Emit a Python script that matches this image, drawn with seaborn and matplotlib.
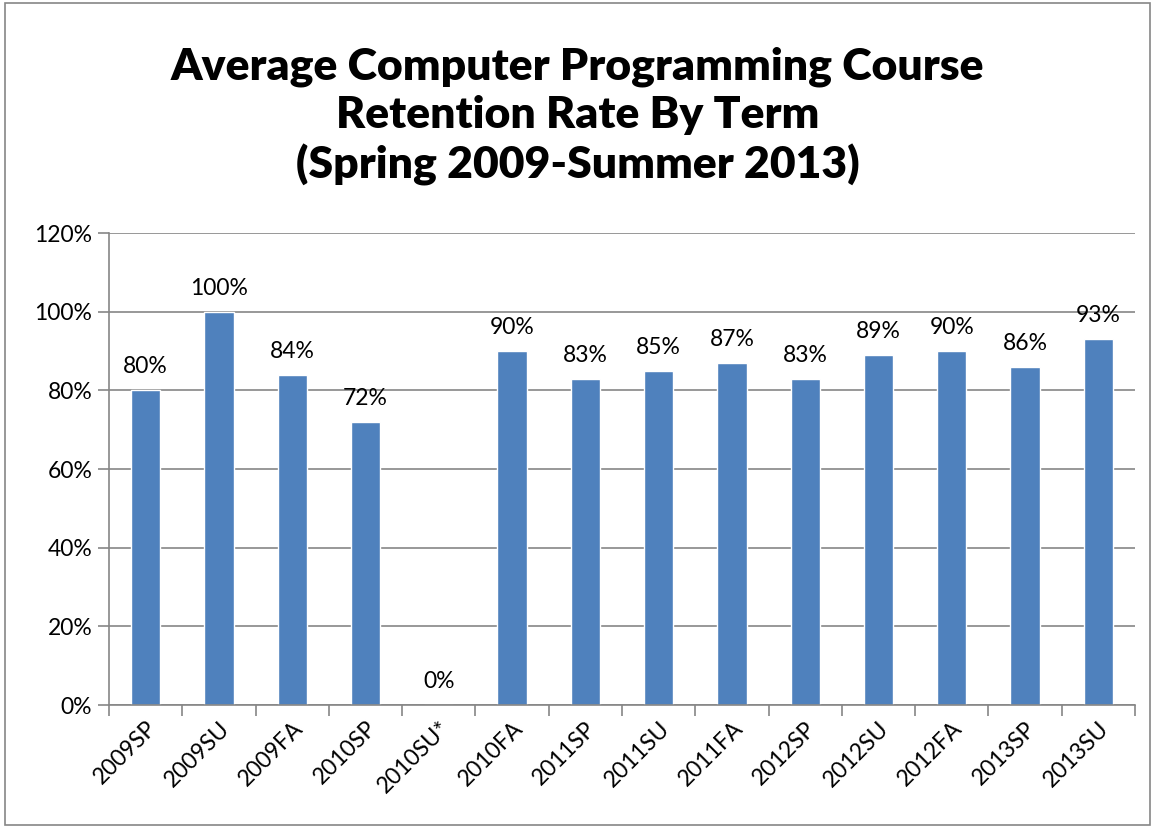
import numpy as np
import pandas as pd
import matplotlib
matplotlib.use("Agg")
import matplotlib.pyplot as plt
import seaborn as sns
from matplotlib.ticker import FixedLocator, PercentFormatter

# -- Data ------------------------------------------------------------------
terms = ["2009SP", "2009SU", "2009FA", "2010SP", "2010SU*", "2010FA", "2011SP",
         "2011SU", "2011FA", "2012SP", "2012SU", "2012FA", "2013SP", "2013SU"]
retention = [80, 100, 84, 72, 0, 90, 83, 85, 87, 83, 89, 90, 86, 93]
y_ticks = [0, 20, 40, 60, 80, 100, 120]

df = pd.DataFrame({"Term": terms, "Retention": retention})

# -- Plot ------------------------------------------------------------------
sns.set_theme(style="white")
plt.rcParams["font.family"] = ["Lato", "DejaVu Sans"]
plt.rcParams["text.color"] = "black"

fig = plt.figure(figsize=(11.55, 8.27), dpi=100)
ax = fig.add_axes([109 / 1155, 1 - 705 / 827, 1026 / 1155, 472 / 827])

sns.barplot(data=df, x="Term", y="Retention", color="#4F81BD", saturation=1,
            width=0.40, ax=ax)

for i, val in enumerate(retention):
    ax.text(i, val + 3.3, f"{val}%", ha="center", va="bottom", fontsize=16.5, color="black")

ax.set_ylim(0, 120)
ax.set_xlim(-0.5, len(terms) - 0.5)
ax.set_yticks(y_ticks)
ax.yaxis.set_major_formatter(PercentFormatter(decimals=0))
ax.grid(axis="y", color="#868686", linewidth=1.2)
ax.set_axisbelow(True)
ax.set_xlabel("")
ax.set_ylabel("")

for side in ["top", "right"]:
    ax.spines[side].set_visible(False)
for side in ["left", "bottom"]:
    ax.spines[side].set_color("#868686")
    ax.spines[side].set_linewidth(1.2)

ax.tick_params(axis="y", labelsize=16.5, length=8, width=1.2, color="#868686",
               left=True, labelcolor="black", pad=4)
ax.tick_params(axis="x", labelsize=16.5, length=0, labelcolor="black", pad=9)
ax.xaxis.set_minor_locator(FixedLocator(np.arange(-0.5, len(terms), 1)))
ax.tick_params(axis="x", which="minor", length=8, width=1.2, color="#868686", bottom=True)
plt.setp(ax.get_xticklabels(), rotation=45, ha="right", rotation_mode="anchor")

fig.text(0.5, 0.860, "Average Computer Programming Course\nRetention Rate By Term\n(Spring 2009-Summer 2013)",
         ha="center", va="center", fontsize=32, fontweight="heavy", linespacing=1.25,
         color="black")

# light frame round the chart
fig.patches.append(plt.Rectangle((0.004, 0.003), 0.992, 0.993, transform=fig.transFigure,
                                 fill=False, edgecolor="#868686", linewidth=1.2))

fig.savefig("out.png", dpi=100)
plt.close(fig)
